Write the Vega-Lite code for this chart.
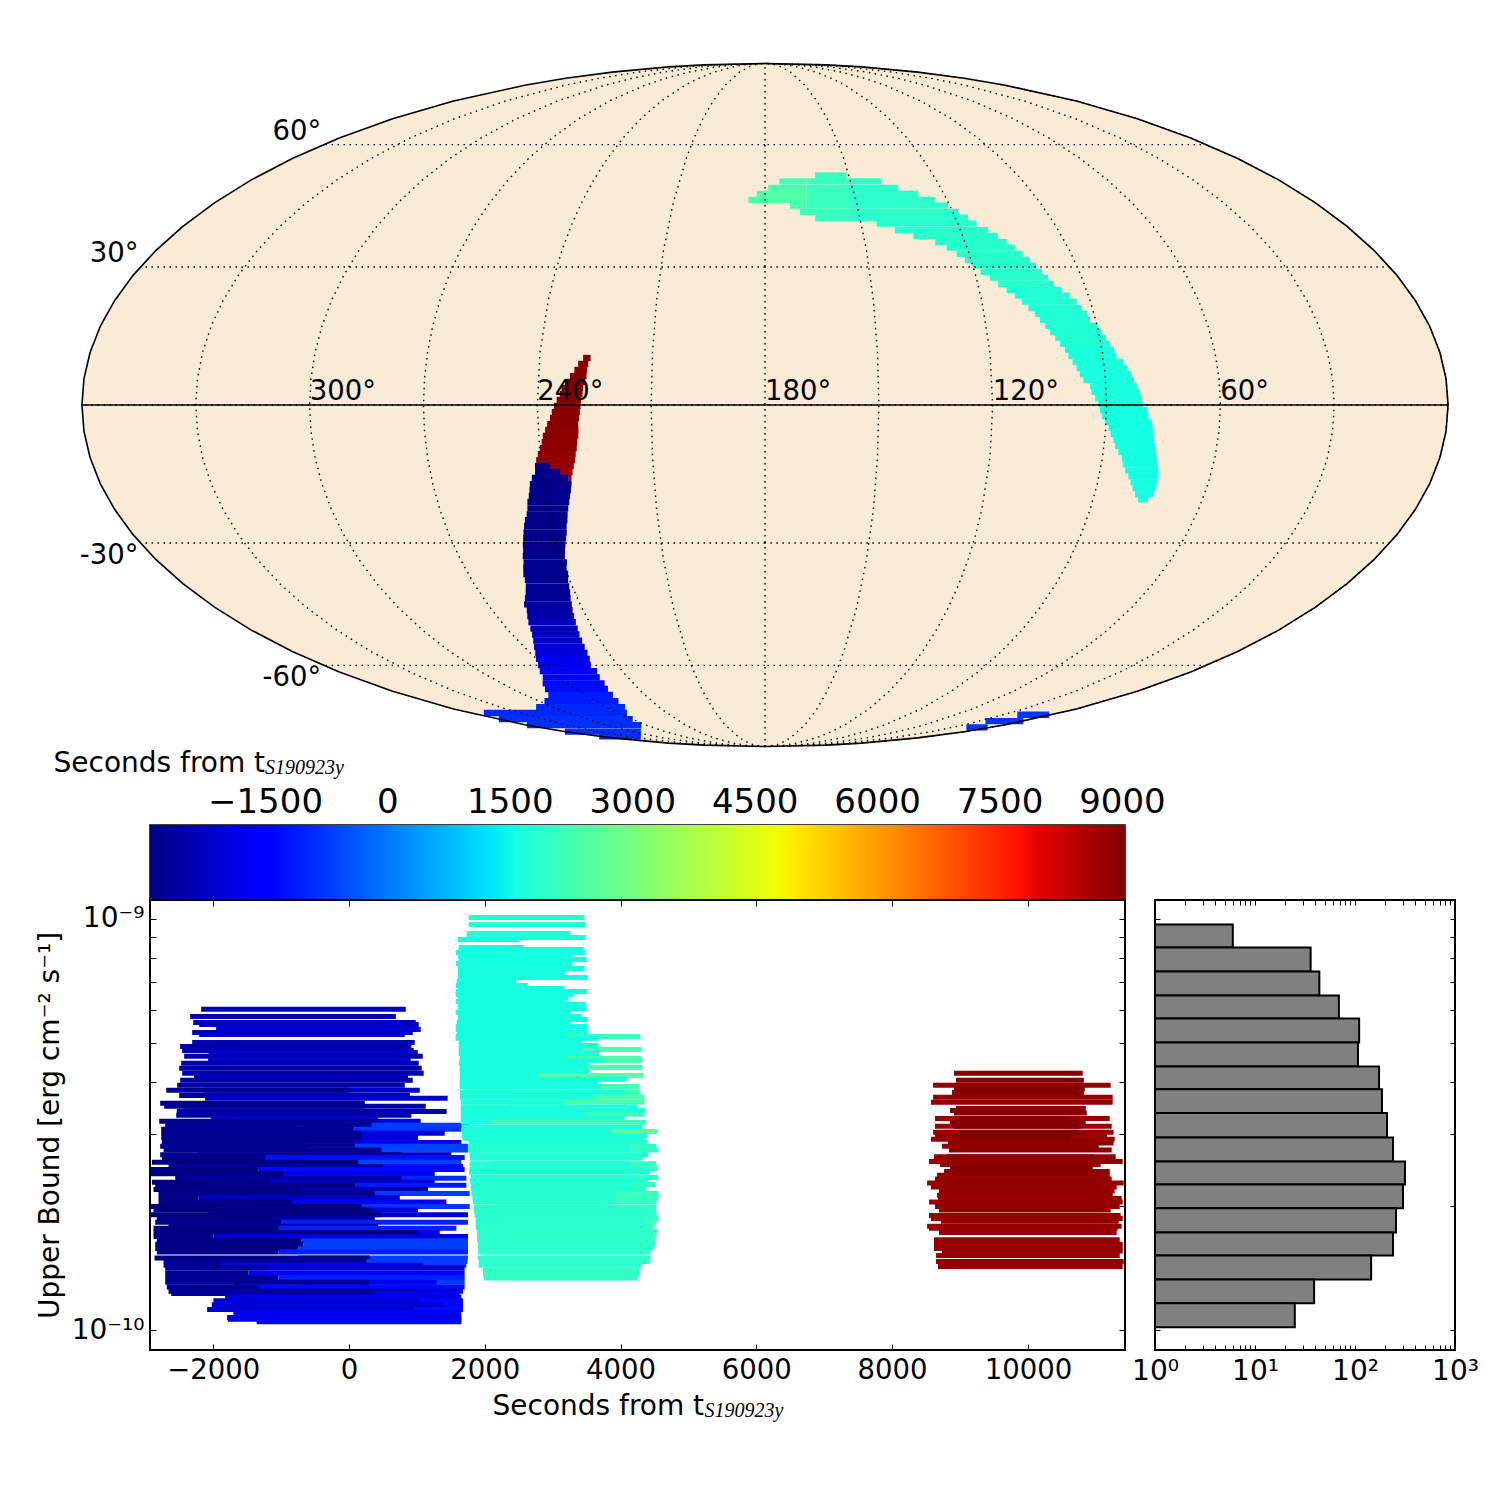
{"$schema":"https://vega.github.io/schema/vega-lite/v6.json","background":"white","autosize":"none","padding":{"left":150,"top":63,"right":1350,"bottom":1437},"bounds":"flush","spacing":0,"config":{"font":"DejaVu Sans","view":{"stroke":null},"axis":{"grid":false,"domain":false,"labelFont":"DejaVu Sans","titleFont":"DejaVu Sans","labelColor":"#000","titleColor":"#000","tickColor":"#000","titleFontWeight":"normal","labelOverlap":false,"labelFlush":false}},
"datasets":{
"sky":[
{"lat":10.07,"ra1":228.4,"ra2":226.4,"t":8990},{"lat":8.78,"ra1":229.6,"ra2":226.9,"t":8990},{"lat":7.49,"ra1":230.5,"ra2":227.1,"t":8990},{"lat":6.2,"ra1":231.6,"ra2":227.2,"t":8990},{"lat":4.92,"ra1":232.8,"ra2":227.5,"t":8990},{"lat":3.63,"ra1":233.7,"ra2":228.0,"t":8990},{"lat":2.35,"ra1":234.1,"ra2":228.1,"t":8990},{"lat":1.07,"ra1":234.9,"ra2":228.5,"t":8990},{"lat":-0.21,"ra1":235.6,"ra2":228.6,"t":8950},{"lat":-1.5,"ra1":236.2,"ra2":228.8,"t":8950},{"lat":-2.78,"ra1":236.7,"ra2":229.0,"t":8950},{"lat":-4.06,"ra1":237.5,"ra2":229.3,"t":8950},{"lat":-5.34,"ra1":238.1,"ra2":229.3,"t":8900},{"lat":-6.63,"ra1":238.8,"ra2":229.4,"t":8900},{"lat":-7.93,"ra1":239.2,"ra2":229.8,"t":8900},{"lat":-9.21,"ra1":239.8,"ra2":230.0,"t":8900},{"lat":-10.5,"ra1":240.5,"ra2":230.4,"t":8830},{"lat":-11.79,"ra1":241.1,"ra2":230.7,"t":8830},{"lat":-13.08,"ra1":237.6,"ra2":231.2,"t":8830},{"lat":-14.38,"ra1":235.1,"ra2":231.7,"t":8830},{"lat":-15.67,"ra1":233.1,"ra2":232.2,"t":8830},
{"lat":-13.08,"ra1":241.6,"ra2":237.6,"t":-2800},{"lat":-14.38,"ra1":241.8,"ra2":235.1,"t":-2800},{"lat":-15.67,"ra1":242.9,"ra2":233.1,"t":-2800},{"lat":-16.98,"ra1":243.7,"ra2":232.4,"t":-2800},{"lat":-18.29,"ra1":244.1,"ra2":232.8,"t":-2800},{"lat":-19.6,"ra1":244.6,"ra2":233.3,"t":-2800},{"lat":-20.9,"ra1":245.3,"ra2":233.8,"t":-2800},{"lat":-22.3,"ra1":245.7,"ra2":234.4,"t":-2800},{"lat":-23.6,"ra1":246.3,"ra2":234.9,"t":-2800},{"lat":-24.9,"ra1":247.2,"ra2":235.3,"t":-2800},{"lat":-26.2,"ra1":247.9,"ra2":235.9,"t":-2800},{"lat":-27.6,"ra1":248.6,"ra2":236.3,"t":-2800},{"lat":-28.9,"ra1":249.2,"ra2":236.9,"t":-2800},{"lat":-30.3,"ra1":249.9,"ra2":237.6,"t":-2800},{"lat":-31.6,"ra1":250.4,"ra2":238.2,"t":-2800},{"lat":-33.0,"ra1":251.2,"ra2":238.8,"t":-2750},{"lat":-34.4,"ra1":251.7,"ra2":238.8,"t":-2750},{"lat":-35.7,"ra1":252.5,"ra2":239.5,"t":-2750},{"lat":-37.1,"ra1":253.3,"ra2":239.7,"t":-2750},{"lat":-38.5,"ra1":253.7,"ra2":240.4,"t":-2700},{"lat":-40.0,"ra1":254.4,"ra2":240.9,"t":-2700},{"lat":-41.4,"ra1":255.4,"ra2":241.4,"t":-2700},{"lat":-42.8,"ra1":256.7,"ra2":242.1,"t":-2600},{"lat":-44.3,"ra1":258.2,"ra2":242.7,"t":-2600},{"lat":-45.7,"ra1":258.5,"ra2":243.4,"t":-2480},{"lat":-47.2,"ra1":259.7,"ra2":244.0,"t":-2480},{"lat":-48.7,"ra1":260.8,"ra2":244.6,"t":-2300},{"lat":-50.3,"ra1":261.8,"ra2":245.3,"t":-2300},{"lat":-51.8,"ra1":262.9,"ra2":246.0,"t":-2150},{"lat":-53.4,"ra1":264.4,"ra2":246.6,"t":-2150},{"lat":-55.0,"ra1":266.2,"ra2":247.3,"t":-2000},{"lat":-56.6,"ra1":268.0,"ra2":248.0,"t":-2000},{"lat":-58.2,"ra1":270.2,"ra2":249.0,"t":-1750},{"lat":-59.9,"ra1":272.3,"ra2":250.8,"t":-1750},{"lat":-61.6,"ra1":274.7,"ra2":250.6,"t":-1500},{"lat":-63.4,"ra1":277.1,"ra2":252.2,"t":-1500},{"lat":-65.1,"ra1":281.1,"ra2":252.9,"t":-1300},{"lat":-66.8,"ra1":284.4,"ra2":254.5,"t":-1300},{"lat":-68.6,"ra1":288.0,"ra2":255.8,"t":-1100},{"lat":-70.6,"ra1":296.8,"ra2":257.6,"t":-1100},{"lat":-72.5,"ra1":309.3,"ra2":259.1,"t":-950},{"lat":-74.5,"ra1":351.5,"ra2":264.2,"t":-950},{"lat":-76.7,"ra1":359.0,"ra2":268.9,"t":-850},{"lat":-78.9,"ra1":359.9,"ra2":273.5,"t":-850},{"lat":-81.5,"ra1":359.9,"ra2":291.6,"t":-850},{"lat":-83.6,"ra1":359.5,"ra2":314.4,"t":-850},
{"lat":-75.1,"ra1":22.2,"ra2":2.3,"t":-800},{"lat":-77.4,"ra1":26.5,"ra2":0.1,"t":-800},{"lat":-79.8,"ra1":19.3,"ra2":2.3,"t":-800},
{"lat":51.8,"ra1":162.2,"ra2":151.0,"t":2050},
{"lat":50.3,"ra1":175.0,"ra2":165.5,"t":2300},{"lat":50.3,"ra1":165.5,"ra2":150.4,"t":2050},{"lat":50.3,"ra1":150.4,"ra2":139.4,"t":1900},
{"lat":48.7,"ra1":178.9,"ra2":165.8,"t":2350},{"lat":48.7,"ra1":165.8,"ra2":151.0,"t":2100},{"lat":48.7,"ra1":151.0,"ra2":134.5,"t":1900},
{"lat":47.2,"ra1":182.8,"ra2":166.0,"t":2400},{"lat":47.2,"ra1":166.0,"ra2":151.5,"t":2100},{"lat":47.2,"ra1":151.5,"ra2":128.6,"t":1900},
{"lat":45.7,"ra1":185.5,"ra2":166.3,"t":2400},{"lat":45.7,"ra1":166.3,"ra2":152.0,"t":2100},{"lat":45.7,"ra1":152.0,"ra2":124.0,"t":1900},
{"lat":44.3,"ra1":171.9,"ra2":166.5,"t":2300},{"lat":44.3,"ra1":166.5,"ra2":152.4,"t":2100},{"lat":44.3,"ra1":152.4,"ra2":120.6,"t":1900},
{"lat":42.8,"ra1":168.8,"ra2":152.8,"t":2100},{"lat":42.8,"ra1":152.8,"ra2":118.2,"t":1900},
{"lat":41.4,"ra1":164.2,"ra2":153.2,"t":2050},{"lat":41.4,"ra1":153.2,"ra2":116.0,"t":1880},
{"lat":40.0,"ra1":145.3,"ra2":114.2,"t":1850},{"lat":38.5,"ra1":140.1,"ra2":111.5,"t":1850},{"lat":37.1,"ra1":135.0,"ra2":109.4,"t":1850},{"lat":35.7,"ra1":129.0,"ra2":107.5,"t":1850},{"lat":34.4,"ra1":126.1,"ra2":105.8,"t":1850},{"lat":33.0,"ra1":123.7,"ra2":104.3,"t":1850},{"lat":31.6,"ra1":121.8,"ra2":103.1,"t":1850},{"lat":30.3,"ra1":120.1,"ra2":101.8,"t":1850},{"lat":28.9,"ra1":118.3,"ra2":100.8,"t":1850},{"lat":27.6,"ra1":116.1,"ra2":99.6,"t":1850},{"lat":26.2,"ra1":114.3,"ra2":98.6,"t":1850},{"lat":24.9,"ra1":112.4,"ra2":97.0,"t":1750},{"lat":23.6,"ra1":110.5,"ra2":95.2,"t":1750},{"lat":22.3,"ra1":109.0,"ra2":93.8,"t":1750},{"lat":20.9,"ra1":107.6,"ra2":93.0,"t":1750},{"lat":19.6,"ra1":106.2,"ra2":92.0,"t":1750},{"lat":18.3,"ra1":105.2,"ra2":91.6,"t":1750},{"lat":17.0,"ra1":104.1,"ra2":90.0,"t":1750},{"lat":15.7,"ra1":103.1,"ra2":89.2,"t":1750},{"lat":14.4,"ra1":102.0,"ra2":88.3,"t":1750},{"lat":13.1,"ra1":101.0,"ra2":87.6,"t":1750},{"lat":11.8,"ra1":99.9,"ra2":86.8,"t":1650},{"lat":10.5,"ra1":99.2,"ra2":86.4,"t":1650},{"lat":9.2,"ra1":98.3,"ra2":84.8,"t":1650},{"lat":7.9,"ra1":97.4,"ra2":84.0,"t":1650},{"lat":6.6,"ra1":96.7,"ra2":83.2,"t":1650},{"lat":5.3,"ra1":95.9,"ra2":82.5,"t":1650},{"lat":4.1,"ra1":94.2,"ra2":81.9,"t":1650},{"lat":2.8,"ra1":93.9,"ra2":81.1,"t":1650},{"lat":1.5,"ra1":93.0,"ra2":80.7,"t":1650},{"lat":0.2,"ra1":92.2,"ra2":80.5,"t":1650},{"lat":-1.1,"ra1":91.7,"ra2":79.2,"t":1570},{"lat":-2.35,"ra1":91.2,"ra2":78.9,"t":1570},{"lat":-3.6,"ra1":90.3,"ra2":78.0,"t":1570},{"lat":-4.9,"ra1":89.3,"ra2":77.6,"t":1570},{"lat":-6.2,"ra1":88.6,"ra2":77.3,"t":1570},{"lat":-7.5,"ra1":87.7,"ra2":76.9,"t":1570},{"lat":-8.8,"ra1":87.1,"ra2":76.3,"t":1570},{"lat":-10.1,"ra1":86.0,"ra2":76.0,"t":1570},{"lat":-11.4,"ra1":84.8,"ra2":75.5,"t":1570},{"lat":-12.7,"ra1":84.3,"ra2":75.0,"t":1570},{"lat":-14.0,"ra1":83.3,"ra2":74.4,"t":1570},{"lat":-15.3,"ra1":82.1,"ra2":74.0,"t":1570},{"lat":-16.6,"ra1":81.1,"ra2":74.0,"t":1570},{"lat":-17.9,"ra1":80.1,"ra2":74.0,"t":1570},{"lat":-19.2,"ra1":79.0,"ra2":74.0,"t":1570},{"lat":-20.3,"ra1":77.7,"ra2":75.0,"t":1570}
],
"scatter":[
{"start":-2177,"end":837,"upper":6.02e-10,"t":-2177},{"start":-2338,"end":690,"upper":5.78e-10,"t":-2338},{"start":-2294,"end":984,"upper":5.59e-10,"t":-2294},{"start":-2206,"end":1028,"upper":5.53e-10,"t":-2206},{"start":-1956,"end":1057,"upper":5.38e-10,"t":-1956},{"start":-2309,"end":940,"upper":5.29e-10,"t":-2309},{"start":-2206,"end":822,"upper":5.23e-10,"t":-2206},{"start":-2309,"end":969,"upper":5.0e-10,"t":-2309},{"start":-2486,"end":920,"upper":4.89e-10,"t":-2486},{"start":-2456,"end":954,"upper":4.78e-10,"t":-2456},{"start":-2069,"end":1013,"upper":4.73e-10,"t":-2069},{"start":-2427,"end":1087,"upper":4.63e-10,"t":-2427},{"start":-2074,"end":910,"upper":4.55e-10,"t":-2074},{"start":-2471,"end":1028,"upper":4.45e-10,"t":-2471},{"start":-2500,"end":1072,"upper":4.33e-10,"t":-2500},{"start":-2456,"end":1101,"upper":4.21e-10,"t":-2456},{"start":-2280,"end":871,"upper":4.12e-10,"t":-2280},{"start":-2486,"end":940,"upper":4.05e-10,"t":-2486},{"start":-2530,"end":822,"upper":3.94e-10,"t":-2530},{"start":-2118,"end":1043,"upper":3.83e-10,"t":-2118},{"start":-2691,"end":14,"upper":3.83e-10,"t":-2691},{"start":-2500,"end":896,"upper":3.72e-10,"t":-2500},{"start":-2118,"end":1454,"upper":3.66e-10,"t":-2118},{"start":-2780,"end":234,"upper":3.56e-10,"t":-2780},{"start":-2441,"end":1131,"upper":3.5e-10,"t":-2441},{"start":-2721,"end":234,"upper":3.5e-10,"t":-2721},{"start":-2363,"end":1439,"upper":3.4e-10,"t":-2363},{"start":-2535,"end":332,"upper":3.4e-10,"t":-2535},{"start":-2544,"end":920,"upper":3.33e-10,"t":-2544},{"start":-2030,"end":430,"upper":3.27e-10,"t":-2030},{"start":-1922,"end":1057,"upper":3.22e-10,"t":-1922},{"start":-2794,"end":406,"upper":3.22e-10,"t":-2794},{"start":-697,"end":1778,"upper":3.15e-10,"t":-697},{"start":-2706,"end":332,"upper":3.15e-10,"t":-2706},
{"start":-795,"end":1655,"upper":3.08e-10,"t":-795},{"start":-2765,"end":63,"upper":3.08e-10,"t":-2765},{"start":-1971,"end":1410,"upper":3.01e-10,"t":-1971},{"start":-2765,"end":185,"upper":3.01e-10,"t":-2765},{"start":-1971,"end":1018,"upper":2.94e-10,"t":-1971},{"start":-2765,"end":185,"upper":2.94e-10,"t":-2765},{"start":-1677,"end":1655,"upper":2.86e-10,"t":-1677},{"start":-2755,"end":87,"upper":2.86e-10,"t":-2755},{"start":-648,"end":1753,"upper":2.8e-10,"t":-648},{"start":-2780,"end":87,"upper":2.8e-10,"t":-2780},{"start":-599,"end":1753,"upper":2.74e-10,"t":-599},{"start":-2730,"end":479,"upper":2.74e-10,"t":-2730},{"start":-2216,"end":1508,"upper":2.67e-10,"t":-2216},{"start":-2780,"end":773,"upper":2.67e-10,"t":-2780},{"start":-1236,"end":1704,"upper":2.63e-10,"t":-1236},{"start":-2755,"end":-1236,"upper":2.63e-10,"t":-2755},{"start":-648,"end":1655,"upper":2.56e-10,"t":-648},{"start":-2902,"end":136,"upper":2.56e-10,"t":-2902},{"start":-1334,"end":1680,"upper":2.5e-10,"t":-1334},{"start":-2657,"end":504,"upper":2.5e-10,"t":-2657},{"start":-1334,"end":1704,"upper":2.46e-10,"t":-1334},{"start":-2926,"end":-1334,"upper":2.46e-10,"t":-2926},{"start":-1750,"end":1263,"upper":2.4e-10,"t":-1750},{"start":-2926,"end":-967,"upper":2.4e-10,"t":-2926},{"start":-957,"end":1729,"upper":2.34e-10,"t":-957},{"start":-2559,"end":773,"upper":2.34e-10,"t":-2559},{"start":-2192,"end":1263,"upper":2.29e-10,"t":-2192},{"start":-2902,"end":-1163,"upper":2.29e-10,"t":-2902},{"start":-1148,"end":1729,"upper":2.25e-10,"t":-1148},{"start":-2853,"end":87,"upper":2.25e-10,"t":-2853},{"start":-2486,"end":1165,"upper":2.2e-10,"t":-2486},{"start":-2878,"end":-746,"upper":2.2e-10,"t":-2878},{"start":-746,"end":1778,"upper":2.15e-10,"t":-746},{"start":-2804,"end":381,"upper":2.15e-10,"t":-2804},{"start":-2216,"end":749,"upper":2.1e-10,"t":-2216},{"start":-2804,"end":-2216,"upper":2.1e-10,"t":-2804},{"start":-1579,"end":1435,"upper":2.05e-10,"t":-1579},{"start":-2804,"end":-844,"upper":2.05e-10,"t":-2804},{"start":-766,"end":1778,"upper":2.0e-10,"t":-766},{"start":-2926,"end":185,"upper":2.0e-10,"t":-2926},{"start":-1971,"end":1018,"upper":1.96e-10,"t":-1971},{"start":-2878,"end":332,"upper":1.96e-10,"t":-2878},{"start":-2069,"end":1753,"upper":1.91e-10,"t":-2069},{"start":-2926,"end":479,"upper":1.91e-10,"t":-2926},{"start":-2559,"end":381,"upper":1.87e-10,"t":-2559},{"start":-2829,"end":-1138,"upper":1.87e-10,"t":-2829},{"start":-1001,"end":1753,"upper":1.83e-10,"t":-1001},{"start":-2853,"end":-1001,"upper":1.83e-10,"t":-2853},{"start":-1873,"end":430,"upper":1.79e-10,"t":-1873},{"start":-2657,"end":381,"upper":1.79e-10,"t":-2657},{"start":-1040,"end":1582,"upper":1.77e-10,"t":-1040},{"start":-2878,"end":-1040,"upper":1.77e-10,"t":-2878},{"start":-1677,"end":1337,"upper":1.73e-10,"t":-1677},{"start":-2878,"end":1018,"upper":1.73e-10,"t":-2878},{"start":-1996,"end":1753,"upper":1.69e-10,"t":-1996},{"start":-2878,"end":-1996,"upper":1.69e-10,"t":-2878},{"start":-697,"end":1753,"upper":1.65e-10,"t":-697},{"start":-2829,"end":-697,"upper":1.65e-10,"t":-2829},{"start":-672,"end":1753,"upper":1.62e-10,"t":-672},{"start":-2853,"end":-672,"upper":1.62e-10,"t":-2853},{"start":-746,"end":1753,"upper":1.58e-10,"t":-746},{"start":-2853,"end":-746,"upper":1.58e-10,"t":-2853},{"start":-1040,"end":1753,"upper":1.55e-10,"t":-1040},{"start":-2829,"end":-1040,"upper":1.55e-10,"t":-2829},{"start":-746,"end":1753,"upper":1.5e-10,"t":-746},{"start":-2863,"end":308,"upper":1.5e-10,"t":-2863},{"start":-697,"end":1743,"upper":1.47e-10,"t":-697},{"start":-2730,"end":259,"upper":1.47e-10,"t":-2730},{"start":-697,"end":1729,"upper":1.44e-10,"t":-697},{"start":-1898,"end":1092,"upper":1.44e-10,"t":-1898},{"start":-2730,"end":-1898,"upper":1.44e-10,"t":-2730},{"start":-2143,"end":1704,"upper":1.42e-10,"t":-2143},{"start":-2706,"end":-1212,"upper":1.42e-10,"t":-2706},{"start":-1481,"end":1704,"upper":1.38e-10,"t":-1481},{"start":-2706,"end":-1481,"upper":1.38e-10,"t":-2706},{"start":-1040,"end":1704,"upper":1.345e-10,"t":-1040},{"start":-2706,"end":-1040,"upper":1.345e-10,"t":-2706},{"start":-720,"end":1704,"upper":1.31e-10,"t":-720},{"start":-1702,"end":1288,"upper":1.31e-10,"t":-1702},{"start":-2706,"end":308,"upper":1.31e-10,"t":-2706},{"start":-1310,"end":1704,"upper":1.275e-10,"t":-1310},{"start":-2682,"end":-1310,"upper":1.275e-10,"t":-2682},{"start":-2045,"end":1680,"upper":1.245e-10,"t":-2045},{"start":-2657,"end":994,"upper":1.245e-10,"t":-2657},{"start":-1824,"end":1631,"upper":1.23e-10,"t":-1824},{"start":-2618,"end":357,"upper":1.23e-10,"t":-2618},{"start":-1824,"end":1655,"upper":1.205e-10,"t":-1824},{"start":-1359,"end":1680,"upper":1.18e-10,"t":-1359},{"start":-1996,"end":1043,"upper":1.18e-10,"t":-1996},{"start":-1359,"end":1680,"upper":1.155e-10,"t":-1359},{"start":-2020,"end":1386,"upper":1.155e-10,"t":-2020},{"start":-1285,"end":1680,"upper":1.125e-10,"t":-1285},{"start":-2089,"end":969,"upper":1.125e-10,"t":-2089},{"start":-1702,"end":1655,"upper":1.105e-10,"t":-1702},{"start":-1795,"end":1655,"upper":1.075e-10,"t":-1795},{"start":-1785,"end":1655,"upper":1.065e-10,"t":-1785},{"start":-1359,"end":1655,"upper":1.05e-10,"t":-1359},
{"start":1764,"end":3470,"upper":1.005e-9,"t":1764},{"start":1764,"end":3484,"upper":9.67e-10,"t":1764},{"start":1735,"end":3264,"upper":9.2e-10,"t":1735},{"start":1735,"end":3484,"upper":8.99e-10,"t":1735},{"start":1603,"end":2514,"upper":8.89e-10,"t":1603},{"start":1617,"end":2573,"upper":8.5e-10,"t":1617},{"start":1617,"end":3455,"upper":8.41e-10,"t":1617},{"start":1573,"end":3484,"upper":8.27e-10,"t":1573},{"start":1603,"end":3293,"upper":8.09e-10,"t":1603},{"start":1617,"end":3499,"upper":7.95e-10,"t":1617},{"start":1573,"end":3293,"upper":7.78e-10,"t":1573},{"start":1603,"end":3470,"upper":7.56e-10,"t":1603},{"start":1603,"end":3190,"upper":7.35e-10,"t":1603},{"start":1603,"end":3514,"upper":7.19e-10,"t":1603},{"start":1588,"end":2465,"upper":7.03e-10,"t":1588},{"start":1573,"end":2632,"upper":6.88e-10,"t":1573},{"start":1603,"end":3175,"upper":6.76e-10,"t":1603},{"start":1573,"end":3514,"upper":6.65e-10,"t":1573},{"start":1573,"end":3308,"upper":6.54e-10,"t":1573},{"start":1603,"end":3234,"upper":6.4e-10,"t":1603},{"start":1573,"end":3151,"upper":6.29e-10,"t":1573},{"start":1603,"end":3484,"upper":6.19e-10,"t":1603},{"start":1603,"end":3499,"upper":6.05e-10,"t":1603},{"start":1573,"end":3264,"upper":5.92e-10,"t":1573},{"start":1603,"end":3425,"upper":5.78e-10,"t":1603},{"start":1603,"end":3514,"upper":5.69e-10,"t":1603},{"start":1588,"end":3249,"upper":5.59e-10,"t":1588},{"start":1573,"end":3514,"upper":5.47e-10,"t":1573},{"start":1573,"end":3308,"upper":5.38e-10,"t":1573},{"start":1588,"end":3528,"upper":5.29e-10,"t":1588},{"start":2186,"end":4293,"upper":5.17e-10,"t":2186},{"start":1573,"end":3200,"upper":5.17e-10,"t":1573},{"start":1573,"end":3675,"upper":5.12e-10,"t":1573},{"start":1617,"end":3425,"upper":5.0e-10,"t":1617},{"start":1617,"end":3675,"upper":4.92e-10,"t":1617},{"start":2269,"end":4307,"upper":4.81e-10,"t":2269},{"start":1617,"end":3420,"upper":4.81e-10,"t":1617},{"start":1617,"end":3690,"upper":4.7e-10,"t":1617},{"start":2318,"end":4307,"upper":4.57e-10,"t":2318},{"start":1632,"end":3175,"upper":4.57e-10,"t":1632},{"start":2318,"end":4322,"upper":4.52e-10,"t":2318},{"start":1632,"end":3705,"upper":4.52e-10,"t":1632},{"start":1617,"end":3543,"upper":4.45e-10,"t":1617},{"start":2269,"end":4322,"upper":4.35e-10,"t":2269},{"start":1632,"end":3494,"upper":4.35e-10,"t":1632},{"start":1632,"end":3543,"upper":4.25e-10,"t":1632},{"start":2779,"end":4337,"upper":4.16e-10,"t":2500},{"start":1632,"end":2779,"upper":4.16e-10,"t":1632},{"start":1632,"end":4087,"upper":4.07e-10,"t":1632},{"start":1632,"end":3675,"upper":3.98e-10,"t":1632},{"start":2269,"end":4278,"upper":3.91e-10,"t":2269},{"start":1632,"end":3729,"upper":3.91e-10,"t":1632},{"start":2220,"end":4293,"upper":3.78e-10,"t":2220},{"start":1632,"end":4058,"upper":3.78e-10,"t":1632},{"start":2367,"end":4352,"upper":3.68e-10,"t":2367},{"start":1632,"end":3616,"upper":3.68e-10,"t":1632},{"start":2318,"end":4352,"upper":3.58e-10,"t":2318},{"start":1647,"end":3151,"upper":3.58e-10,"t":1647},{"start":1647,"end":4249,"upper":3.48e-10,"t":1647},{"start":1647,"end":4366,"upper":3.42e-10,"t":1647},{"start":2122,"end":4352,"upper":3.35e-10,"t":2122},{"start":1647,"end":3470,"upper":3.35e-10,"t":1647},{"start":1647,"end":4058,"upper":3.27e-10,"t":1647},{"start":2132,"end":4381,"upper":3.2e-10,"t":2132},{"start":1647,"end":2132,"upper":3.2e-10,"t":1647},{"start":1661,"end":4327,"upper":3.11e-10,"t":1661},{"start":2563,"end":4543,"upper":3.04e-10,"t":2563},{"start":1661,"end":3857,"upper":3.04e-10,"t":1661},{"start":1779,"end":4396,"upper":2.97e-10,"t":1779},{"start":1661,"end":2857,"upper":2.97e-10,"t":1661},{"start":1676,"end":4352,"upper":2.93e-10,"t":1676},{"start":1764,"end":4396,"upper":2.86e-10,"t":1764},{"start":1975,"end":4528,"upper":2.8e-10,"t":1975},{"start":1755,"end":4131,"upper":2.8e-10,"t":1755},{"start":1926,"end":4557,"upper":2.74e-10,"t":1926},{"start":1755,"end":4131,"upper":2.74e-10,"t":1755},{"start":1779,"end":4410,"upper":2.67e-10,"t":1779},{"start":1779,"end":4327,"upper":2.62e-10,"t":1779},{"start":2073,"end":4528,"upper":2.54e-10,"t":2073},{"start":1779,"end":4155,"upper":2.54e-10,"t":1779},{"start":1975,"end":4543,"upper":2.47e-10,"t":1975},{"start":1779,"end":4327,"upper":2.47e-10,"t":1779},{"start":1769,"end":4440,"upper":2.42e-10,"t":1769},{"start":2073,"end":4557,"upper":2.35e-10,"t":2073},{"start":1794,"end":4229,"upper":2.35e-10,"t":1794},{"start":1779,"end":4410,"upper":2.31e-10,"t":1779},{"start":2073,"end":4513,"upper":2.26e-10,"t":2073},{"start":1794,"end":4205,"upper":2.26e-10,"t":1794},{"start":1794,"end":4381,"upper":2.21e-10,"t":1794},{"start":2122,"end":4557,"upper":2.15e-10,"t":2122},{"start":1804,"end":3935,"upper":2.15e-10,"t":1804},{"start":2073,"end":4557,"upper":2.09e-10,"t":2073},{"start":1818,"end":3935,"upper":2.09e-10,"t":1818},{"start":2014,"end":4528,"upper":2.05e-10,"t":2014},{"start":1828,"end":3935,"upper":2.05e-10,"t":1828},{"start":1975,"end":4528,"upper":1.99e-10,"t":1975},{"start":1838,"end":3935,"upper":1.99e-10,"t":1838},{"start":1926,"end":4528,"upper":1.95e-10,"t":1926},{"start":1838,"end":4425,"upper":1.95e-10,"t":1838},{"start":1877,"end":4528,"upper":1.9e-10,"t":1877},{"start":1852,"end":4425,"upper":1.9e-10,"t":1852},{"start":2122,"end":4557,"upper":1.87e-10,"t":2122},{"start":1867,"end":4425,"upper":1.87e-10,"t":1867},{"start":2269,"end":4523,"upper":1.82e-10,"t":2269},{"start":1867,"end":4376,"upper":1.82e-10,"t":1867},{"start":2122,"end":4484,"upper":1.78e-10,"t":2122},{"start":1867,"end":4425,"upper":1.78e-10,"t":1867},{"start":2048,"end":4543,"upper":1.74e-10,"t":2048},{"start":1887,"end":4425,"upper":1.74e-10,"t":1887},{"start":2196,"end":4528,"upper":1.7e-10,"t":2196},{"start":1887,"end":4474,"upper":1.7e-10,"t":1887},{"start":2343,"end":4513,"upper":1.66e-10,"t":2343},{"start":1887,"end":4425,"upper":1.66e-10,"t":1887},{"start":1902,"end":4513,"upper":1.62e-10,"t":1902},{"start":1902,"end":4484,"upper":1.59e-10,"t":1902},{"start":2048,"end":4440,"upper":1.55e-10,"t":2048},{"start":1902,"end":4376,"upper":1.55e-10,"t":1902},{"start":1902,"end":4440,"upper":1.5e-10,"t":1902},{"start":1911,"end":4425,"upper":1.47e-10,"t":1911},{"start":1911,"end":4307,"upper":1.44e-10,"t":1911},{"start":1975,"end":4278,"upper":1.4e-10,"t":1975},{"start":1975,"end":4278,"upper":1.37e-10,"t":1975},{"start":1985,"end":4249,"upper":1.34e-10,"t":1985},
{"start":8912,"end":10808,"upper":4.21e-10,"t":8990},{"start":8941,"end":10823,"upper":4.05e-10,"t":8990},{"start":8603,"end":11219,"upper":3.94e-10,"t":8800},{"start":8912,"end":10837,"upper":3.85e-10,"t":8980},{"start":8882,"end":10823,"upper":3.78e-10,"t":8960},{"start":8603,"end":11249,"upper":3.68e-10,"t":8800},{"start":8573,"end":11249,"upper":3.58e-10,"t":8790},{"start":8941,"end":10852,"upper":3.46e-10,"t":9000},{"start":8853,"end":10837,"upper":3.42e-10,"t":8950},{"start":8912,"end":10867,"upper":3.37e-10,"t":8990},{"start":8632,"end":11205,"upper":3.27e-10,"t":8800},{"start":8985,"end":10617,"upper":3.27e-10,"t":9030},{"start":8853,"end":10852,"upper":3.2e-10,"t":8980},{"start":8632,"end":11234,"upper":3.13e-10,"t":8800},{"start":8912,"end":10778,"upper":3.13e-10,"t":9000},{"start":8603,"end":11263,"upper":3.03e-10,"t":8800},{"start":8970,"end":10734,"upper":3.03e-10,"t":9030},{"start":8632,"end":11165,"upper":2.97e-10,"t":8800},{"start":8887,"end":10631,"upper":2.97e-10,"t":9030},{"start":8573,"end":11278,"upper":2.91e-10,"t":8790},{"start":9014,"end":10631,"upper":2.91e-10,"t":8980},{"start":8823,"end":11263,"upper":2.85e-10,"t":8900},{"start":8735,"end":11043,"upper":2.8e-10,"t":8850},{"start":8838,"end":11234,"upper":2.74e-10,"t":8920},{"start":8617,"end":11293,"upper":2.64e-10,"t":8800},{"start":8809,"end":10984,"upper":2.64e-10,"t":8950},{"start":8544,"end":11396,"upper":2.57e-10,"t":8780},{"start":8706,"end":11072,"upper":2.53e-10,"t":8830},{"start":8853,"end":10955,"upper":2.49e-10,"t":8950},{"start":8765,"end":11205,"upper":2.43e-10,"t":8900},{"start":8662,"end":11205,"upper":2.38e-10,"t":8820},{"start":8838,"end":10867,"upper":2.38e-10,"t":8930},{"start":8632,"end":11234,"upper":2.33e-10,"t":8820},{"start":8515,"end":11411,"upper":2.28e-10,"t":8780},{"start":8799,"end":10984,"upper":2.28e-10,"t":8880},{"start":8573,"end":11308,"upper":2.23e-10,"t":8790},{"start":8789,"end":11058,"upper":2.23e-10,"t":8880},{"start":8691,"end":11278,"upper":2.18e-10,"t":8830},{"start":8662,"end":11249,"upper":2.13e-10,"t":8830},{"start":8676,"end":11381,"upper":2.09e-10,"t":8800},{"start":8544,"end":11396,"upper":2.05e-10,"t":8780},{"start":8794,"end":11087,"upper":2.05e-10,"t":8850},{"start":8632,"end":11352,"upper":2.0e-10,"t":8820},{"start":8691,"end":11219,"upper":1.96e-10,"t":8830},{"start":8544,"end":11366,"upper":1.9e-10,"t":8780},{"start":8573,"end":11396,"upper":1.87e-10,"t":8800},{"start":8720,"end":11337,"upper":1.84e-10,"t":8830},{"start":8515,"end":11381,"upper":1.79e-10,"t":8790},{"start":8544,"end":11322,"upper":1.77e-10,"t":8800},{"start":8691,"end":11308,"upper":1.73e-10,"t":8820},{"start":8617,"end":11352,"upper":1.66e-10,"t":8800},{"start":8617,"end":11396,"upper":1.62e-10,"t":8800},{"start":8617,"end":11396,"upper":1.58e-10,"t":8800},{"start":8735,"end":11396,"upper":1.56e-10,"t":8810},{"start":8647,"end":11352,"upper":1.52e-10,"t":8800},{"start":8647,"end":11411,"upper":1.47e-10,"t":8800},{"start":8676,"end":11396,"upper":1.43e-10,"t":8800}
],
"hist":[
{"count":6,"lo":8.5e-10,"hi":9.67e-10},{"count":36,"lo":7.44e-10,"hi":8.5e-10},{"count":44,"lo":6.5e-10,"hi":7.44e-10},{"count":69,"lo":5.72e-10,"hi":6.5e-10},{"count":110,"lo":5.0e-10,"hi":5.72e-10},{"count":107,"lo":4.37e-10,"hi":5.0e-10},{"count":174,"lo":3.85e-10,"hi":4.37e-10},{"count":186,"lo":3.37e-10,"hi":3.85e-10},{"count":209,"lo":2.94e-10,"hi":3.37e-10},{"count":240,"lo":2.57e-10,"hi":2.94e-10},{"count":316,"lo":2.26e-10,"hi":2.57e-10},{"count":302,"lo":1.98e-10,"hi":2.26e-10},{"count":257,"lo":1.73e-10,"hi":1.98e-10},{"count":240,"lo":1.52e-10,"hi":1.73e-10},{"count":145,"lo":1.33e-10,"hi":1.52e-10},{"count":39,"lo":1.165e-10,"hi":1.33e-10},{"count":25,"lo":1.018e-10,"hi":1.165e-10}
]},
"vconcat":[
{"width":1305,"height":762,"projection":{"type":"mollweide","scale":241.5,"translate":[615,342],"rotate":[-180,0],"reflectX":true},
"layer":[
{"data":{"sphere":true},"mark":{"type":"geoshape","clip":false,"fill":"#faebd7","stroke":null},"encoding":{}},
{"data":{"name":"sky"},"mark":{"type":"rule","clip":false,"strokeWidth":6.3,"strokeCap":"butt"},"encoding":{"longitude":{"field":"ra1","type":"quantitative"},"latitude":{"field":"lat","type":"quantitative"},"longitude2":{"field":"ra2"},"latitude2":{"field":"lat"},"color":{"field":"t","type":"quantitative","legend":null,"scale":{"interpolate":"rgb","domain":[-2909,-1595,-1416,1153,1272,1571,4736,4856,4975,7723,7962,9037],"range":["#000080","#0000ff","#0000ff","#00dbff","#00e6f7","#15ffe2","#eeff08","#f7f600","#ffec00","#ff1300","#e80000","#800000"]}}}},
{"data":{"graticule":{"stepMajor":[30,30],"stepMinor":[30,30],"precision":1}},"mark":{"type":"geoshape","clip":false,"fill":null,"filled":false,"stroke":"#000","strokeWidth":1.4,"strokeDash":[1.5,4.5]},"encoding":{}},
{"data":{"values":[{"lat":0,"ra1":0.01,"ra2":359.99}]},"mark":{"type":"rule","clip":false,"stroke":"#000","strokeWidth":1.6},"encoding":{"longitude":{"field":"ra1","type":"quantitative"},"latitude":{"field":"lat","type":"quantitative"},"longitude2":{"field":"ra2"},"latitude2":{"field":"lat"}}},
{"data":{"values":[{"ra":300,"lat":1.1,"label":"300°"},{"ra":240,"lat":1.1,"label":"240°"},{"ra":180,"lat":1.1,"label":"180°"},{"ra":120,"lat":1.1,"label":"120°"},{"ra":60,"lat":1.1,"label":"60°"}]},"mark":{"type":"text","clip":false,"fontSize":27.5,"align":"left","baseline":"alphabetic","color":"#000"},"encoding":{"longitude":{"field":"ra","type":"quantitative"},"latitude":{"field":"lat","type":"quantitative"},"text":{"field":"label"}}},
{"data":{"values":[{"ra":359.9,"lat":60,"label":"60°"},{"ra":359.9,"lat":30,"label":"30°"}]},"mark":{"type":"text","clip":false,"fontSize":27.5,"align":"right","baseline":"alphabetic","color":"#000","dx":-2,"dy":-5},"encoding":{"longitude":{"field":"ra","type":"quantitative"},"latitude":{"field":"lat","type":"quantitative"},"text":{"field":"label"}}},
{"data":{"values":[{"ra":359.9,"lat":-30,"label":"-30°"},{"ra":359.9,"lat":-60,"label":"-60°"}]},"mark":{"type":"text","clip":false,"fontSize":27.5,"align":"right","baseline":"alphabetic","color":"#000","dx":-2,"dy":21},"encoding":{"longitude":{"field":"ra","type":"quantitative"},"latitude":{"field":"lat","type":"quantitative"},"text":{"field":"label"}}},
{"data":{"sphere":true},"mark":{"type":"geoshape","clip":false,"fill":null,"filled":false,"stroke":"#000","strokeWidth":1.6},"encoding":{}}
]},
{"width":975,"height":75,"view":{"stroke":"#000","strokeWidth":1.5},
"layer":[
{"data":{"values":[{"from":-2909,"to":9037,"low":0,"high":1}]},"mark":{"type":"rect","color":{"gradient":"linear","x1":0,"x2":1,"y1":0,"y2":0,"stops":[{"offset":0,"color":"#000080"},{"offset":0.11,"color":"#0000ff"},{"offset":0.125,"color":"#0000ff"},{"offset":0.34,"color":"#00dbff"},{"offset":0.35,"color":"#00e6f7"},{"offset":0.375,"color":"#15ffe2"},{"offset":0.64,"color":"#eeff08"},{"offset":0.65,"color":"#f7f600"},{"offset":0.66,"color":"#ffec00"},{"offset":0.89,"color":"#ff1300"},{"offset":0.91,"color":"#e80000"},{"offset":1,"color":"#800000"}]}},"encoding":{"x":{"field":"from","type":"quantitative","scale":{"domain":[-2909,9037],"nice":false,"zero":false},"axis":{"orient":"top","values":[-1500,0,1500,3000,4500,6000,7500,9000],"labelExpr":"replace(format(datum.value,'d'),'-','−')","labelFontSize":34,"tickSize":-6,"labelPadding":12,"title":"Seconds from t","titleFontSize":28,"titleAnchor":"start","titleAlign":"left","titleX":-97,"titleY":-54,"titleBaseline":"alphabetic"}},"x2":{"field":"to"},"y":{"field":"low","type":"quantitative","scale":{"domain":[0,1],"nice":false},"axis":null},"y2":{"field":"high"}}},
{"data":{"values":[{"at":-1500,"height":1.68,"label":"S190923y"}]},"mark":{"type":"text","font":"Liberation Serif","fontStyle":"italic","fontSize":20,"align":"left","baseline":"alphabetic","color":"#000"},"encoding":{"x":{"field":"at","type":"quantitative","scale":{"domain":[-2909,9037],"nice":false,"zero":false}},"y":{"field":"height","type":"quantitative","scale":{"domain":[0,1],"nice":false},"axis":null},"text":{"field":"label"}}}
]},
{"spacing":30,"bounds":"flush","hconcat":[
{"width":975,"height":450,"view":{"stroke":"#000","strokeWidth":2},"resolve":{"axis":{"x":"independent","y":"independent"}},
"layer":[
{"data":{"name":"scatter"},"mark":{"type":"rule","strokeWidth":5,"strokeCap":"butt"},"encoding":{"x":{"field":"start","type":"quantitative","scale":{"domain":[-2930,11430],"nice":false,"zero":false},"axis":{"orient":"bottom","values":[-2000,0,2000,4000,6000,8000,10000],"labelExpr":"replace(format(datum.value,'d'),'-','−')","labelFontSize":27.5,"tickSize":-6,"labelPadding":12,"title":"Seconds from t","titleFontSize":28,"titleAnchor":"start","titleAlign":"left","titleX":342,"titleY":64,"titleBaseline":"alphabetic"}},"x2":{"field":"end"},"y":{"field":"upper","type":"quantitative","scale":{"type":"log","domain":[8.965e-11,1.109e-9],"nice":false},"axis":{"orient":"left","values":[1e-10,2e-10,3e-10,4e-10,5e-10,6e-10,7e-10,8e-10,9e-10,1e-9],"labelExpr":"datum.value==1e-9?'10⁻⁹':(datum.value==1e-10?'10⁻¹⁰':'')","labelFontSize":28,"tickSize":-6,"labelPadding":12,"title":"Upper Bound [erg cm⁻² s⁻¹]","titleFontSize":28,"titleX":-92,"titleY":225,"titleBaseline":"alphabetic"}},"color":{"field":"t","type":"quantitative","legend":null,"scale":{"interpolate":"rgb","domain":[-2909,-1595,-1416,1153,1272,1571,4736,4856,4975,7723,7962,9037],"range":["#000080","#0000ff","#0000ff","#00dbff","#00e6f7","#15ffe2","#eeff08","#f7f600","#ffec00","#ff1300","#e80000","#800000"]}}}},
{"data":{"values":[{"at":5236,"upper":6.15e-11,"label":"S190923y"}]},"mark":{"type":"text","font":"Liberation Serif","fontStyle":"italic","fontSize":20,"align":"left","baseline":"alphabetic","color":"#000"},"encoding":{"x":{"field":"at","type":"quantitative","scale":{"domain":[-2930,11430],"nice":false,"zero":false},"axis":{"orient":"top","values":[-2000,0,2000,4000,6000,8000,10000],"labels":false,"tickSize":-6,"title":null}},"y":{"field":"upper","type":"quantitative","scale":{"type":"log","domain":[8.965e-11,1.109e-9],"nice":false},"axis":{"orient":"right","values":[1e-10,2e-10,3e-10,4e-10,5e-10,6e-10,7e-10,8e-10,9e-10,1e-9],"labels":false,"tickSize":-6,"title":null}},"text":{"field":"label"}}}
]},
{"width":300,"height":450,"view":{"stroke":"#000","strokeWidth":2},"resolve":{"axis":{"x":"independent","y":"independent"}},"data":{"name":"hist"},
"layer":[
{"mark":{"type":"rect","fill":"#808080","stroke":"#000","strokeWidth":2},"encoding":{"x":{"field":"count","type":"quantitative","scale":{"type":"log","domain":[1,1000],"nice":false},"axis":{"orient":"bottom","values":[1,2,3,4,5,6,7,8,9,10,20,30,40,50,60,70,80,90,100,200,300,400,500,600,700,800,900,1000],"labelExpr":"datum.value==1?'10⁰':(datum.value==10?'10¹':(datum.value==100?'10²':(datum.value==1000?'10³':'')))","labelFontSize":28,"tickSize":-5,"labelPadding":12,"title":null}},"x2":{"datum":1},"y":{"field":"lo","type":"quantitative","scale":{"type":"log","domain":[8.965e-11,1.109e-9],"nice":false},"axis":{"orient":"left","values":[1e-10,2e-10,3e-10,4e-10,5e-10,6e-10,7e-10,8e-10,9e-10,1e-9],"labels":false,"tickSize":-5,"title":null}},"y2":{"field":"hi"}}},
{"mark":{"type":"rect","opacity":0},"encoding":{"x":{"field":"count","type":"quantitative","scale":{"type":"log","domain":[1,1000],"nice":false},"axis":{"orient":"top","values":[1,2,3,4,5,6,7,8,9,10,20,30,40,50,60,70,80,90,100,200,300,400,500,600,700,800,900,1000],"labels":false,"tickSize":-5,"title":null}},"x2":{"datum":1},"y":{"field":"lo","type":"quantitative","scale":{"type":"log","domain":[8.965e-11,1.109e-9],"nice":false},"axis":{"orient":"right","values":[1e-10,2e-10,3e-10,4e-10,5e-10,6e-10,7e-10,8e-10,9e-10,1e-9],"labels":false,"tickSize":-5,"title":null}},"y2":{"field":"hi"}}}
]}
]}
]}
